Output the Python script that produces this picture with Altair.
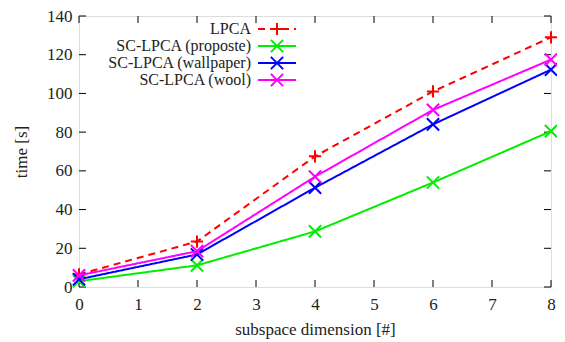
import altair as alt
import pandas as pd

# ---- data ----
dims = [0, 2, 4, 6, 8]
lpca = [6.5, 23.5, 67.5, 101, 129]
sc_proposte = [3, 11.2, 28.7, 54, 80.5]
sc_wallpaper = [4, 16.8, 51.3, 84, 112.3]
sc_wool = [6, 18.5, 57, 91.5, 117.5]

series_names = ["LPCA", "SC-LPCA (proposte)", "SC-LPCA (wallpaper)", "SC-LPCA (wool)"]
series_values = [lpca, sc_proposte, sc_wallpaper, sc_wool]
series_colors = ["#ff0000", "#00ee00", "#0000ff", "#ff00ff"]
series_dash = [[7, 5], [1, 0], [1, 0], [1, 0]]

x_ticks = [0, 1, 2, 3, 4, 5, 6, 7, 8]
y_ticks = [0, 20, 40, 60, 80, 100, 120, 140]

FONT = "Liberation Serif"
FS = 17
W, H = 472, 271
PLUS = "M-1,0L1,0M0,-1L0,1"
CROSS = "M-1,-1L1,1M-1,1L1,-1"
shapes = [PLUS, CROSS, CROSS, CROSS]

xscale = alt.Scale(domain=[0, 8], nice=False, zero=False)
yscale = alt.Scale(domain=[0, 140], nice=False, zero=False)

xaxis = alt.Axis(values=x_ticks, format="d", tickSize=0, domain=False, grid=False,
                 labelFont=FONT, labelFontSize=FS, labelColor="#222",
                 labelPadding=9, labelFlush=False, labelOverlap=False,
                 title="subspace dimension [#]",
                 titleFont=FONT, titleFontSize=FS, titleFontWeight="normal",
                 titleColor="#222", titlePadding=9)
yaxis = alt.Axis(values=y_ticks, format="d", tickSize=0, domain=False, grid=False,
                 labelFont=FONT, labelFontSize=FS, labelColor="#222",
                 labelPadding=7, labelFlush=False, labelOverlap=False,
                 labelBound=False, title="time [s]",
                 titleFont=FONT, titleFontSize=FS, titleFontWeight="normal",
                 titleColor="#222", titlePadding=16)

X = lambda f: alt.X(f, scale=xscale, axis=xaxis)
Y = lambda f: alt.Y(f, scale=yscale, axis=yaxis)

layers = []

# inward tick marks on all four sides
xt = pd.DataFrame({"x": x_ticks})
yt = pd.DataFrame({"y": y_ticks})
layers.append(alt.Chart(xt).mark_rule(color="black", strokeWidth=1).encode(
    x=X("x:Q"), y=alt.value(H), y2=alt.value(H - 7)))
layers.append(alt.Chart(xt).mark_rule(color="black", strokeWidth=1).encode(
    x=X("x:Q"), y=alt.value(0), y2=alt.value(7)))
layers.append(alt.Chart(yt).mark_rule(color="black", strokeWidth=1).encode(
    y=Y("y:Q"), x=alt.value(0), x2=alt.value(7)))
layers.append(alt.Chart(yt).mark_rule(color="black", strokeWidth=1).encode(
    y=Y("y:Q"), x=alt.value(W), x2=alt.value(W - 7)))

# data series
for name, vals, col, dash, shp in zip(series_names, series_values, series_colors,
                                      series_dash, shapes):
    df = pd.DataFrame({"dim": dims, "time": vals, "series": name})
    base = alt.Chart(df).encode(x=X("dim:Q"), y=Y("time:Q"))
    layers.append(base.mark_line(color=col, strokeWidth=2, strokeDash=dash, clip=False))
    layers.append(base.mark_point(shape=shp, filled=False, size=150, color=col,
                                  strokeWidth=2, opacity=1, clip=False))

# manual gnuplot-style key (text right-aligned, sample on the right)
row_y = [13, 30, 47, 64]
one = pd.DataFrame({"k": [0]})
for name, col, dash, shp, ry in zip(series_names, series_colors, series_dash,
                                    shapes, row_y):
    layers.append(alt.Chart(one).mark_text(
        align="right", baseline="middle", font=FONT, fontSize=16, color="#222"
    ).encode(x=alt.value(172), y=alt.value(ry), text=alt.value(name)))
    layers.append(alt.Chart(one).mark_rule(color=col, strokeWidth=2, strokeDash=dash).encode(
        x=alt.value(179), x2=alt.value(217), y=alt.value(ry)))
    layers.append(alt.Chart(one).mark_point(
        shape=shp, filled=False, size=150, color=col, strokeWidth=2, opacity=1
    ).encode(x=alt.value(198), y=alt.value(ry)))

chart = alt.layer(*layers).properties(
    width=W, height=H,
    autosize=alt.AutoSizeParams(type="none"),
    padding={"left": 71, "top": 8, "right": 6, "bottom": 52},
).configure_view(stroke="black", strokeWidth=1.5).configure_axis(
    labelOverlap=False, labelFlush=False
).configure(background="white")

chart.save("out.html", embed_options={"renderer": "svg", "actions": False})
